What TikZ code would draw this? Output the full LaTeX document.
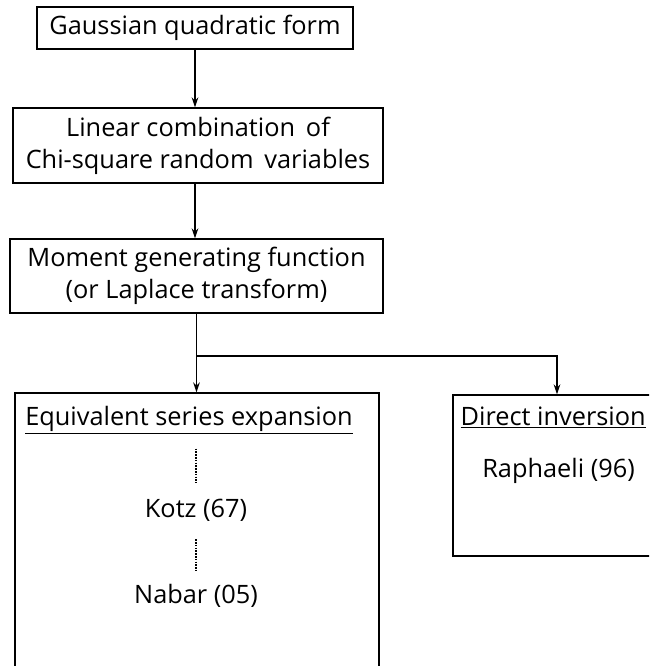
\documentclass[tikz,border=0pt]{standalone}
\usepackage{fontspec}
\setmainfont{Open Sans}
\usetikzlibrary{positioning,arrows.meta}

\begin{document}
\begin{tikzpicture}[x=0.75pt, y=-0.75pt, font=\fontsize{19}{24}\selectfont,
   box/.style={draw, line width=1pt, align=center, inner sep=0pt},
   txt/.style={inner sep=0pt},
   flow/.style={-{Stealth[length=7.5pt,width=5pt]}, line width=1.3pt},
   dotline/.style={dash pattern=on 1.1pt off 1pt, line width=1.3pt}]
   \clip (0,0) rectangle (649,666);

   % main column
   \node[box, minimum width=237pt, minimum height=31.5pt] (gqf) at (195,28) {Gaussian quadratic form};
   \node[box, minimum width=277.5pt, minimum height=56.25pt] (lcc) at (198,145.5) {Linear combination\, of\\Chi-square random\, variables};
   \node[box, minimum width=279.75pt, minimum height=55.5pt] (mgf) at (196.5,276) {Moment generating function\\(or Laplace transform)};
   \coordinate[below=31.5pt of mgf.south] (split);

   % the two branches
   \node[box, minimum width=273pt, minimum height=247.5pt] (ese) at (197,558) {};
   \node[box, minimum width=156pt, minimum height=120.75pt] (dinv) at (557,475.5) {};

   \node[txt, anchor=base west] (esetitle) at (25,425) {\underline{Equivalent series expansion}};
   \node[txt, anchor=base] (kotz) at (196,517) {Kotz (67)};
   \node[txt, anchor=base] (nabar) at (196,603) {Nabar (05)};
   \node[txt, anchor=base east] (dinvtitle) at (646,425) {\underline{Direct inversion}};
   \node[txt, anchor=base west] (raph) at (482,477) {Raphaeli (96)};

   \draw[flow] (gqf) -- (gqf.south |- lcc.north);
   \draw[flow] (lcc.south -| gqf.south) -- (gqf.south |- mgf.north);
   \draw[line width=1.3pt] (mgf) -- (split);
   \draw[flow] (split) -- (split |- ese.north);
   \draw[flow] (split) -| (dinv.north);

   \draw[dotline, shorten <=11pt, shorten >=12pt] (esetitle.south -| kotz) -- (kotz.north);
   \draw[dotline, shorten <=13.5pt, shorten >=10pt] (kotz.south) -- (nabar.north);
\end{tikzpicture}
\end{document}
